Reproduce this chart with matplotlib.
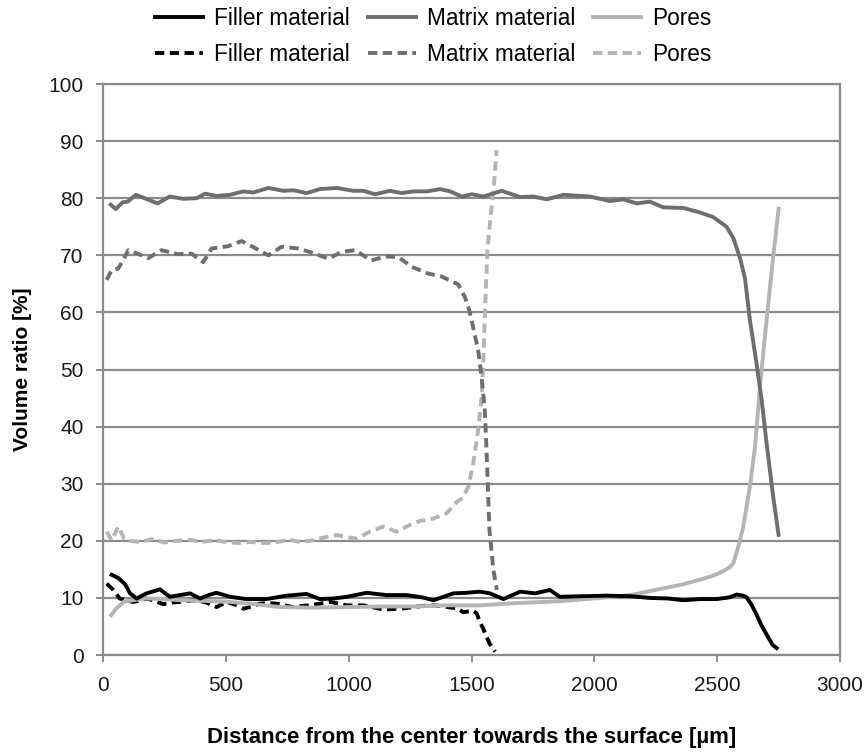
import matplotlib
matplotlib.use("Agg")
import matplotlib.pyplot as plt
from matplotlib.lines import Line2D

plt.rcParams['font.family'] = ['Liberation Sans', 'DejaVu Sans']

# ---- solid series (full cross-section) ----
filler_x = [28, 62, 90, 110, 137, 177, 232, 272, 313, 354, 395, 430, 462, 517, 584, 666, 747,
            829, 883, 940, 992, 1073, 1154, 1236, 1300, 1345, 1426, 1480, 1535, 1575, 1630,
            1698, 1760, 1819, 1859, 1950, 2050, 2150, 2226, 2300, 2362, 2430, 2497, 2550,
            2579, 2605, 2620, 2640, 2660, 2680, 2701, 2725, 2748]
filler_y = [14.2, 13.5, 12.4, 10.8, 9.9, 10.8, 11.5, 10.2, 10.5, 10.8, 9.9, 10.5, 10.9, 10.2,
            9.8, 9.8, 10.4, 10.7, 9.8, 9.9, 10.2, 10.9, 10.5, 10.5, 10.1, 9.6, 10.8, 10.9,
            11.1, 10.8, 9.8, 11.1, 10.8, 11.4, 10.2, 10.3, 10.4, 10.3, 10.0, 9.9, 9.6, 9.8,
            9.8, 10.1, 10.6, 10.4, 10.1, 8.8, 7.1, 5.2, 3.6, 1.8, 1.0]

matrix_x = [25, 52, 80, 100, 134, 175, 222, 272, 326, 381, 415, 462, 517, 571, 612, 673, 734,
            775, 829, 883, 951, 1019, 1060, 1107, 1168, 1216, 1263, 1318, 1372, 1413, 1460,
            1501, 1549, 1623, 1698, 1752, 1806, 1874, 1982, 2063, 2118, 2172, 2226, 2281,
            2362, 2430, 2484, 2538, 2566, 2593, 2613, 2633, 2660, 2681, 2701, 2728, 2751]
matrix_y = [79.1, 78.1, 79.3, 79.4, 80.6, 79.9, 79.1, 80.3, 79.9, 80.0, 80.8, 80.4, 80.6, 81.2,
            81.0, 81.8, 81.3, 81.4, 80.9, 81.6, 81.8, 81.3, 81.3, 80.7, 81.3, 80.9, 81.2, 81.2,
            81.6, 81.2, 80.3, 80.7, 80.3, 81.3, 80.2, 80.3, 79.8, 80.6, 80.3, 79.5, 79.8, 79.1,
            79.4, 78.4, 78.3, 77.5, 76.7, 75.0, 73.0, 69.5, 66.0, 58.7, 51.1, 44.7, 37.1,
            27.7, 20.7]

pores_x = [28, 55, 83, 137, 177, 250, 313, 400, 517, 620, 720, 850, 992, 1130, 1263, 1400,
           1535, 1684, 1850, 2023, 2100, 2158, 2226, 2294, 2362, 2430, 2484, 2525, 2552,
           2566, 2586, 2606, 2633, 2654, 2674, 2701, 2728, 2751]
pores_y = [6.7, 8.2, 9.3, 9.7, 9.9, 9.8, 9.6, 9.5, 9.3, 8.9, 8.4, 8.3, 8.4, 8.5, 8.5, 8.7,
           8.7, 9.1, 9.4, 10.0, 10.3, 10.6, 11.2, 11.8, 12.4, 13.2, 13.9, 14.7, 15.4, 16.1,
           19.0, 22.5, 29.5, 36.5, 47.0, 58.7, 69.8, 78.5]

# ---- dashed series (second specimen) ----
filler2_x = [15, 42, 68, 95, 122, 150, 177, 210, 245, 280, 313, 350, 381, 420, 462, 503, 540,
             571, 605, 638, 670, 706, 740, 774, 808, 842, 883, 924, 960, 992, 1030, 1060,
             1095, 1127, 1160, 1195, 1230, 1263, 1300, 1345, 1372, 1399, 1440, 1467, 1480,
             1507, 1521, 1534, 1548, 1561, 1575, 1596]
filler2_y = [12.5, 11.4, 9.9, 9.6, 9.3, 9.5, 9.9, 9.5, 8.9, 9.2, 9.3, 9.5, 9.6, 9.2, 8.4, 9.3,
             8.8, 8.1, 8.5, 9.0, 9.1, 9.0, 8.7, 8.4, 8.6, 8.7, 9.0, 9.3, 9.0, 8.7, 8.7, 8.7,
             8.4, 8.1, 8.0, 8.1, 8.2, 8.4, 8.6, 8.7, 8.6, 8.4, 8.2, 7.5, 7.6, 7.7, 7.3, 5.8,
             4.6, 3.2, 1.9, 0.6]

matrix2_x = [15, 35, 62, 80, 103, 140, 184, 238, 306, 360, 408, 442, 510, 564, 618, 673, 727,
             795, 863, 917, 971, 1025, 1093, 1147, 1202, 1256, 1324, 1378, 1446, 1473, 1490,
             1500, 1527, 1541, 1554, 1561, 1568, 1573, 1589, 1603]
matrix2_y = [65.7, 67.4, 67.7, 69.0, 70.9, 70.3, 69.5, 70.9, 70.2, 70.3, 68.8, 71.2, 71.6,
             72.5, 71.3, 70.0, 71.5, 71.2, 70.3, 69.4, 70.6, 70.9, 69.1, 69.8, 69.7, 68.0,
             66.8, 66.3, 64.9, 62.7, 60.5, 58.7, 53.4, 48.7, 42.9, 36.0, 27.7, 21.9, 14.9,
             11.4]

pores2_x = [15, 35, 62, 85, 110, 150, 200, 250, 300, 350, 400, 450, 500, 550, 600, 650, 700,
            760, 800, 856, 900, 951, 1000, 1032, 1086, 1141, 1195, 1250, 1290, 1331, 1398,
            1440, 1466, 1487, 1507, 1527, 1541, 1548, 1553, 1559, 1565, 1578, 1589, 1602]
pores2_y = [21.6, 20.1, 22.5, 20.5, 20.0, 19.8, 20.3, 19.7, 20.0, 20.2, 19.8, 20.1, 19.8,
            19.6, 19.8, 19.6, 19.7, 20.2, 19.8, 20.1, 20.6, 21.0, 20.6, 20.4, 21.6, 22.5,
            21.6, 22.8, 23.5, 23.7, 24.8, 26.8, 27.6, 29.5, 33.6, 39.4, 45.0, 51.0, 58.0,
            65.0, 70.9, 77.0, 81.0, 88.4]

labels = ["Filler material", "Matrix material", "Pores"]
colors = ["#000000", "#6e6e6e", "#b4b4b4"]

x_ticks = [0, 500, 1000, 1500, 2000, 2500, 3000]
y_ticks = [0, 10, 20, 30, 40, 50, 60, 70, 80, 90, 100]

grid_col = "#8c8c8c"
lw = 2.8
dash = (0, (2.4, 1.4))

fig = plt.figure(figsize=(8.67, 7.53), dpi=100)
ax = fig.add_axes([0.1188, 0.1301, 0.8501, 0.7583])

solid = [(filler_x, filler_y), (matrix_x, matrix_y), (pores_x, pores_y)]
dashed = [(filler2_x, filler2_y), (matrix2_x, matrix2_y), (pores2_x, pores2_y)]

# draw light curves first so darker ones sit on top
for (xs, ys), c in reversed(list(zip(dashed, colors))):
    ax.plot(xs, ys, color=c, lw=lw, linestyle=dash, solid_joinstyle='round')
for (xs, ys), c in reversed(list(zip(solid, colors))):
    ax.plot(xs, ys, color=c, lw=lw, solid_joinstyle='round', solid_capstyle='butt')

ax.set_xlim(0, 3000)
ax.set_ylim(0, 100)
ax.set_xticks(x_ticks)
ax.set_yticks(y_ticks)
ax.grid(axis='y', color=grid_col, lw=1.6)
ax.set_axisbelow(True)
for s in ax.spines.values():
    s.set_color(grid_col)
    s.set_linewidth(1.6)

ax.tick_params(axis='both', direction='out', color=grid_col, width=1.4, length=5,
               labelsize=15, labelcolor='#1a1a1a')
ax.tick_params(axis='y', pad=9)
ax.tick_params(axis='x', pad=10)

ax.set_xlabel("Distance from the center towards the surface [\u00b5m]", fontsize=16,
              fontweight='bold', labelpad=23)
ax.set_ylabel("Volume ratio [%]", fontsize=15, fontweight='bold', labelpad=12)

handles = []
legend_labels = []
for c, lab in zip(colors, labels):
    handles.append(Line2D([], [], color=c, lw=lw))
    legend_labels.append(lab)
    handles.append(Line2D([], [], color=c, lw=lw, linestyle=dash))
    legend_labels.append(lab)

fig.legend(handles, legend_labels, ncol=3, loc='upper center', bbox_to_anchor=(0.5, 1.003),
           frameon=False, fontsize=16.3, handlelength=2.1, handletextpad=0.5,
           columnspacing=0.8, labelspacing=0.58, borderaxespad=0.0)

fig.savefig("out.png", dpi=100)
